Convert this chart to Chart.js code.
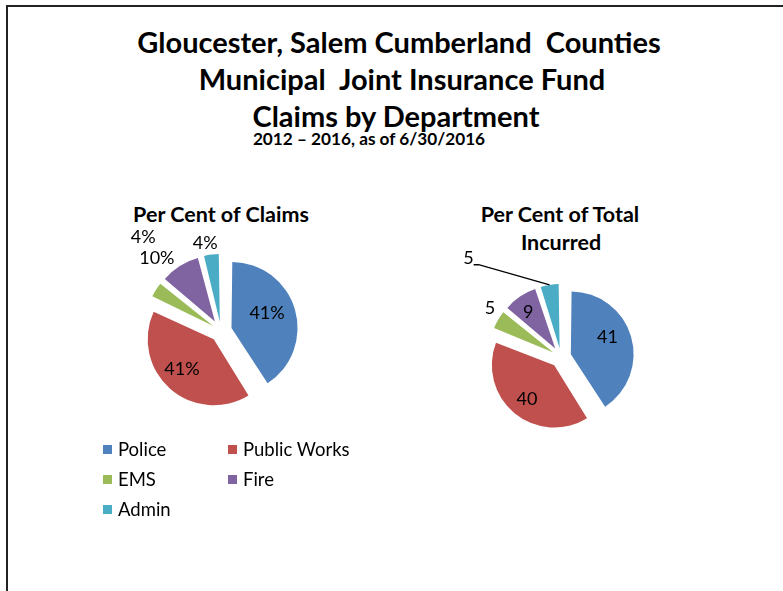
<!DOCTYPE html>
<html><head><meta charset="utf-8">
<script src="https://cdn.jsdelivr.net/npm/chart.js@4.4.0/dist/chart.umd.min.js"></script>
<style>
html,body{margin:0;padding:0;background:#fff;}
body{width:783px;height:591px;position:relative;overflow:hidden;font-family:Lato,"Open Sans",sans-serif;color:#000;}
.frame{position:absolute;left:6px;top:5px;width:1000px;height:1000px;border-left:2px solid #222;border-top:2px solid #222;}
.t{position:absolute;white-space:nowrap;line-height:1;text-align:center;font-weight:bold;}
canvas{position:absolute;}
.lg{position:absolute;white-space:nowrap;line-height:1;font-size:18.5px;}
.sw{position:absolute;width:9px;height:9px;}
</style></head>
<body>
<div class="frame"></div>
<div class="t" style="left:99px;width:600px;top:27px;font-size:29px">Gloucester, Salem Cumberland&nbsp; Counties</div>
<div class="t" style="left:102px;width:600px;top:64px;font-size:29px">Municipal&nbsp; Joint Insurance Fund</div>
<div class="t" style="left:96px;width:600px;top:101px;font-size:29px">Claims by Department</div>
<div class="t" style="left:69px;width:600px;top:130px;font-size:17.2px">2012 – 2016, as of 6/30/2016</div>
<div class="t" style="left:71px;width:300px;top:204px;font-size:21.5px">Per Cent of Claims</div>
<div class="t" style="left:410px;width:300px;top:204px;font-size:21.5px">Per Cent of Total</div>
<div class="t" style="left:411px;width:300px;top:232px;font-size:21.5px">Incurred</div>
<canvas id="c1" width="320" height="320" style="left:61px;top:171px;width:320px;height:320px"></canvas>
<canvas id="c2" width="320" height="320" style="left:401px;top:197px;width:320px;height:320px"></canvas>
<div id="legend"></div>
<script>
const categories = ['Police', 'Public Works', 'EMS', 'Fire', 'Admin'];
const claimsPct = [41, 41, 4, 10, 4];
const incurredPct = [41, 40, 5, 9, 5];
const colors = ['#4F81BD', '#C0504D', '#9BBB59', '#8064A2', '#4BACC6'];

// label placement: rf = distance from pie centre in radii, da = angle shift (deg) from slice middle
const claimsPlacement = [
  {rf: 0.81, da: -5}, {rf: 0.90, da: 4}, {rf: 2.0, da: 18}, {rf: 1.59, da: -9}, {rf: 1.47, da: -3}
];
const incurredPlacement = [
  {rf: 0.87, da: -7}, {rf: 0.94, da: -1}, {rf: 1.49, da: 4}, {rf: 0.96, da: -2}, {rf: 2.34, da: -34, leader: true}
];

const sliceLabels = {
  id: 'sliceLabels',
  afterDatasetsDraw(chart, args, opts) {
    const ctx = chart.ctx;
    const meta = chart.getDatasetMeta(0);
    const data = chart.data.datasets[0].data;
    ctx.save();
    ctx.font = opts.font;
    ctx.fillStyle = '#000';
    ctx.strokeStyle = '#000';
    ctx.lineWidth = 1.3;
    ctx.textAlign = 'center';
    ctx.textBaseline = 'middle';
    meta.data.forEach((arc, i) => {
      const p = arc.getProps(['x', 'y', 'startAngle', 'endAngle', 'outerRadius'], true);
      const mid = (p.startAngle + p.endAngle) / 2;
      const pl = opts.placement[i];
      const a = mid + pl.da * Math.PI / 180;
      const lx = p.x + Math.cos(a) * pl.rf * p.outerRadius;
      const ly = p.y + Math.sin(a) * pl.rf * p.outerRadius;
      const text = opts.format(data[i]);
      if (pl.leader) {
        const ex = p.x + Math.cos(mid) * (opts.explode + p.outerRadius);
        const ey = p.y + Math.sin(mid) * (opts.explode + p.outerRadius);
        const hw = ctx.measureText(text).width / 2;
        ctx.beginPath();
        ctx.moveTo(lx + hw, ly + 7);
        ctx.lineTo(lx + hw + 5, ly + 7);
        ctx.lineTo(ex, ey);
        ctx.stroke();
      }
      ctx.fillText(text, lx, ly);
    });
    ctx.restore();
  }
};

function makePie(id, values, radius, explode, placement, format) {
  const total = values.reduce((s, v) => s + v, 0);
  return new Chart(document.getElementById(id), {
    type: 'pie',
    data: { labels: categories, datasets: [{
      data: values,
      backgroundColor: colors,
      borderWidth: 0,
      offset: (c) => {
        const circ = c.dataset.data[c.dataIndex] / total * Math.PI * 2;
        return 4 * explode / (2 - Math.sin(Math.min(Math.PI, circ)));
      }
    }]},
    options: {
      responsive: false,
      animation: false,
      events: [],
      radius: radius,
      layout: { padding: 0 },
      plugins: {
        legend: { display: false },
        tooltip: { enabled: false },
        sliceLabels: { font: '18px Lato', placement, format, explode }
      }
    },
    plugins: [sliceLabels]
  });
}

makePie('c1', claimsPct, 61, 16, claimsPlacement, v => v + '%');
makePie('c2', incurredPct, 58, 15, incurredPlacement, v => String(v));

// legend, two columns
const lg = document.getElementById('legend');
categories.forEach((name, i) => {
  const col = i % 2, row = Math.floor(i / 2);
  const sw = document.createElement('div');
  sw.className = 'sw';
  sw.style.background = colors[i];
  sw.style.left = (103 + col * 125) + 'px';
  sw.style.top = (445 + row * 30) + 'px';
  lg.appendChild(sw);
  const tx = document.createElement('div');
  tx.className = 'lg';
  tx.textContent = name;
  tx.style.left = (118 + col * 125) + 'px';
  tx.style.top = (440 + row * 30) + 'px';
  lg.appendChild(tx);
});
</script>
</body></html>
